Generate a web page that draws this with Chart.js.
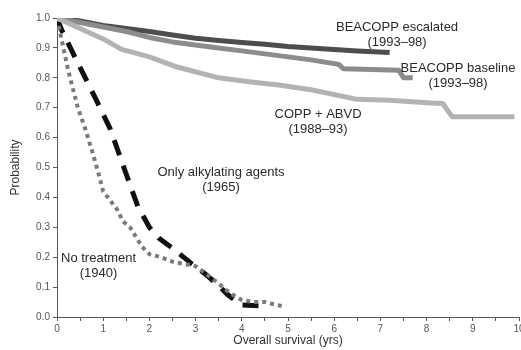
<!DOCTYPE html>
<html>
<head>
<meta charset="utf-8">
<script src="https://cdn.jsdelivr.net/npm/chart.js@4/dist/chart.umd.min.js"></script>
<style>
html,body{margin:0;padding:0;background:#fff;}
#wrap{width:521px;height:350px;}
</style>
</head>
<body>
<div id="wrap"><canvas id="c" width="521" height="350"></canvas></div>
<script>
// ---- data (years, survival probability) ----
const escYears  = [0, 0.5, 1, 1.5, 2, 2.5, 3, 3.5, 4, 4.5, 5, 5.5, 6, 6.5, 7.2];
const escValues = [1.0, 0.99, 0.975, 0.965, 0.955, 0.943, 0.932, 0.925, 0.918, 0.912, 0.905, 0.9, 0.895, 0.89, 0.885];

const baseYears  = [0, 0.5, 1, 1.5, 2, 2.5, 3, 3.5, 4, 4.5, 5, 5.5, 6.1, 6.2, 7.4, 7.5, 7.7];
const baseValues = [1.0, 0.985, 0.97, 0.955, 0.935, 0.92, 0.91, 0.9, 0.89, 0.88, 0.87, 0.86, 0.845, 0.83, 0.825, 0.8, 0.8];

const coppYears  = [0, 0.5, 1, 1.4, 2, 2.6, 3.5, 4.2, 4.8, 5.5, 6.5, 7.2, 8.1, 8.35, 8.55, 9.9];
const coppValues = [1.0, 0.965, 0.93, 0.895, 0.87, 0.836, 0.8, 0.786, 0.776, 0.76, 0.728, 0.725, 0.716, 0.714, 0.67, 0.67];

const alkYears  = [0, 0.1, 0.45, 0.82, 1.15, 1.47, 1.75, 2.0, 2.2, 2.5, 2.9, 3.2, 3.5, 3.7, 4.0, 4.55];
const alkValues = [1.0, 0.96, 0.85, 0.735, 0.63, 0.49, 0.37, 0.3, 0.264, 0.23, 0.18, 0.145, 0.105, 0.074, 0.04, 0.037];

const noneYears  = [0, 0.11, 0.25, 0.45, 0.61, 0.75, 0.89, 1.0, 1.15, 1.3, 1.43, 1.58, 1.84, 2.0, 2.25, 2.5, 3.0, 3.2, 3.46, 3.74, 4.0, 4.25, 4.5, 4.76, 4.95];
const noneValues = [1.0, 0.92, 0.82, 0.7, 0.63, 0.56, 0.485, 0.42, 0.39, 0.36, 0.32, 0.3, 0.235, 0.21, 0.2, 0.185, 0.17, 0.147, 0.117, 0.08, 0.057, 0.05, 0.05, 0.04, 0.035];

const seriesNames = ["BEACOPP escalated", "BEACOPP baseline", "COPP + ABVD", "Only alkylating agents", "No treatment"];

const xTickValues = [0,1,2,3,4,5,6,7,8,9,10];
const yTickLabels = ["0.0","0.1","0.2","0.3","0.4","0.5","0.6","0.7","0.8","0.9","1.0"];

// annotation labels (two lines each)
const annoLines = [
  ["BEACOPP escalated", "(1993\u201398)"],
  ["BEACOPP baseline", "(1993\u201398)"],
  ["COPP + ABVD", "(1988\u201393)"],
  ["Only alkylating agents", "(1965)"],
  ["No treatment", "(1940)"]
];
// anchor for each annotation (x in years, y in probability) -- layout, not data
const annoAnchors = [[7.36, 0.97], [8.68, 0.833], [5.65, 0.676], [3.55, 0.482], [0.9, 0.197]];

function pts(xs, ys){ return xs.map((x,i)=>({x:x, y:ys[i]})); }

const FONT = '"Liberation Sans", Arial, sans-serif';

const annoPlugin = {
  id: 'anno',
  afterDatasetsDraw(chart){
    const ctx = chart.ctx, xs = chart.scales.x, ys = chart.scales.y;
    ctx.save();
    ctx.font = '13px ' + FONT;
    ctx.fillStyle = '#2a2a2a';
    ctx.textAlign = 'center';
    ctx.textBaseline = 'middle';
    annoLines.forEach((lines, i) => {
      const px = xs.getPixelForValue(annoAnchors[i][0]);
      const py = ys.getPixelForValue(annoAnchors[i][1]);
      lines.forEach((t, j) => ctx.fillText(t, px, py + j*15));
    });
    ctx.restore();
  }
};

const common = {fill:false, tension:0, pointRadius:0, borderCapStyle:'butt', borderJoinStyle:'round'};

new Chart(document.getElementById('c'), {
  type: 'line',
  data: {
    datasets: [
      Object.assign({label: seriesNames[2], data: pts(coppYears, coppValues), borderColor:'#b3b3b3', borderWidth:5}, common),
      Object.assign({label: seriesNames[1], data: pts(baseYears, baseValues), borderColor:'#8c8c8c', borderWidth:5}, common),
      Object.assign({label: seriesNames[0], data: pts(escYears, escValues), borderColor:'#4d4d4d', borderWidth:5}, common),
      Object.assign({label: seriesNames[4], data: pts(noneYears, noneValues), borderColor:'#7a7a7a', borderWidth:4, borderDash:[4,4]}, common),
      Object.assign({label: seriesNames[3], data: pts(alkYears, alkValues), borderColor:'#111111', borderWidth:5, borderDash:[16,11]}, common)
    ]
  },
  options: {
    responsive: false,
    animation: false,
    layout: {padding: {top: 18, right: 2, left: 8, bottom: 0}},
    plugins: {legend: {display: false}, tooltip: {enabled: false}},
    scales: {
      x: {
        type: 'linear', min: 0, max: 10,
        border: {color: '#555', width: 1},
        grid: {drawOnChartArea: false, drawTicks: true, tickLength: 4, color: '#555'},
        ticks: {
          stepSize: 0.5, autoSkip: false, maxRotation: 0, padding: 2,
          color: '#555', font: {size: 10, family: FONT},
          callback: (v) => xTickValues.includes(v) ? String(v) : ''
        },
        title: {display: true, text: 'Overall survival (yrs)', color: '#333', padding: {top: 0, bottom: 2},
               font: {size: 12, family: FONT}},
        afterFit: (s) => { s.height = 33; s.paddingRight = 0; s.paddingLeft = 0; }
      },
      y: {
        type: 'linear', min: 0, max: 1,
        border: {color: '#555', width: 1},
        grid: {drawOnChartArea: false, drawTicks: true, tickLength: 4, color: '#555'},
        ticks: {
          stepSize: 0.1, autoSkip: false, padding: 3,
          color: '#555', font: {size: 10, family: FONT},
          callback: (v) => yTickLabels[Math.round(v*10)]
        },
        title: {display: true, text: 'Probability', color: '#333', padding: {top: 0, bottom: 4},
                font: {size: 12, family: FONT}},
        afterFit: (s) => { s.width = 49; }
      }
    }
  },
  plugins: [annoPlugin]
});
</script>
</body>
</html>
